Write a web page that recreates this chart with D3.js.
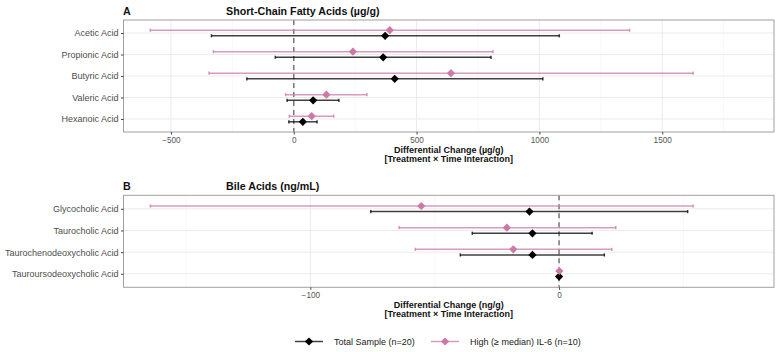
<!DOCTYPE html>
<html lang='en'>
<head>
<meta charset='utf-8'>
<title>Forest plot</title>
<script src='https://cdn.jsdelivr.net/npm/d3@7'></script>
<style>
  body { margin: 0; background: #fff; }
  text { font-family: 'Liberation Sans', Arial, sans-serif; }
</style>
</head>
<body>
<script>
// ---- data ----
var groups = ['Total Sample (n=20)', 'High (\u2265 median) IL-6 (n=10)'];
var groupColors = ['#000000', '#CC79A7'];

var scfaNames = ['Acetic Acid', 'Propionic Acid', 'Butyric Acid', 'Valeric Acid', 'Hexanoic Acid'];
var scfaTotalEst = [372, 364, 411, 79, 37];
var scfaTotalLo  = [-335, -75, -191, -27, -20];
var scfaTotalHi  = [1081, 803, 1014, 184, 95];
var scfaHighEst  = [391, 241, 640, 133, 73];
var scfaHighLo   = [-584, -327, -345, -33, -18];
var scfaHighHi   = [1367, 811, 1626, 298, 163];
var scfaTicks = [-500, 0, 500, 1000, 1500];

var bileNames = ['Glycocholic Acid', 'Taurocholic Acid', 'Taurochenodeoxycholic Acid', 'Tauroursodeoxycholic Acid'];
var bileTotalEst = [-11.9, -10.7, -10.7, 0];
var bileTotalLo  = [-75.7, -34.9, -39.7, -0.3];
var bileTotalHi  = [51.7, 13.3, 18.2, 0.3];
var bileHighEst  = [-55.4, -21.0, -18.4, 0.1];
var bileHighLo   = [-164.3, -64.3, -57.8, -0.4];
var bileHighHi   = [53.9, 22.8, 21.2, 0.6];
var bileTicks = [-100, 0];

var W = 779, H = 352;
var svg = d3.select('body').append('svg').attr('width', W).attr('height', H);

function rows(names, te, tl, th, he, hl, hh) {
  var out = [];
  names.forEach(function(n, i) {
    out.push({name: n, g: 0, est: te[i], lo: tl[i], hi: th[i]});
    out.push({name: n, g: 1, est: he[i], lo: hl[i], hi: hh[i]});
  });
  return out;
}

function panel(opt) {
  var left = 123.5, right = 774;
  var x = d3.scaleLinear().domain(opt.domain).range([left, right]);
  var y = d3.scalePoint().domain(opt.names).range([opt.top + opt.inset, opt.bottom - opt.inset]);
  var g = svg.append('g');

  // grid (minor + major)
  var step = opt.ticks[1] - opt.ticks[0];
  var minor = [];
  for (var i = -2; i < opt.ticks.length + 2; i++) minor.push(opt.ticks[0] - step / 2 + i * step);
  g.selectAll('.minor').data(minor.filter(function(v) { return x(v) > left && x(v) < right; }))
    .enter().append('line')
    .attr('x1', x).attr('x2', x).attr('y1', opt.top).attr('y2', opt.bottom)
    .attr('stroke', '#f4f4f4').attr('stroke-width', 0.6);
  g.selectAll('.major').data(opt.ticks).enter().append('line')
    .attr('x1', x).attr('x2', x).attr('y1', opt.top).attr('y2', opt.bottom)
    .attr('stroke', '#ebebeb').attr('stroke-width', 1);
  g.selectAll('.hgrid').data(opt.names).enter().append('line')
    .attr('x1', left).attr('x2', right).attr('y1', y).attr('y2', y)
    .attr('stroke', '#ebebeb').attr('stroke-width', 1);

  // zero line
  g.append('line').attr('x1', x(0)).attr('x2', x(0)).attr('y1', opt.top).attr('y2', opt.bottom)
    .attr('stroke', '#777').attr('stroke-width', 1.5).attr('stroke-dasharray', '5,4');

  // error bars + points
  var dodge = 2.8;
  var bars = g.selectAll('.bar').data(opt.data).enter().append('g')
    .attr('transform', function(r) { return 'translate(0,' + (y(r.name) + (r.g === 1 ? -dodge : dodge)) + ')'; });
  bars.append('line').attr('x1', function(r) { return x(r.lo); }).attr('x2', function(r) { return x(r.hi); })
    .attr('stroke', function(r) { return groupColors[r.g]; })
    .attr('stroke-opacity', 0.75).attr('stroke-width', 1.5);
  ['lo', 'hi'].forEach(function(k) {
    bars.append('line').attr('x1', function(r) { return x(r[k]); }).attr('x2', function(r) { return x(r[k]); })
      .attr('y1', -1.6).attr('y2', 1.6)
      .attr('stroke', function(r) { return groupColors[r.g]; })
      .attr('stroke-opacity', 0.75).attr('stroke-width', 1.5);
  });
  bars.append('path').attr('d', d3.symbol(d3.symbolSquare, 34)())
    .attr('transform', function(r) { return 'translate(' + x(r.est) + ',0) rotate(45)'; })
    .attr('fill', function(r) { return groupColors[r.g]; });

  // border
  g.append('rect').attr('x', left).attr('y', opt.top).attr('width', right - left).attr('height', opt.bottom - opt.top)
    .attr('fill', 'none').attr('stroke', '#a0a0a0').attr('stroke-width', 1);

  // axes
  var xa = g.append('g').attr('transform', 'translate(0,' + opt.bottom + ')')
    .call(d3.axisBottom(x).tickValues(opt.ticks).tickSize(2.5).tickSizeOuter(0)
      .tickFormat(function(v) { return v < 0 ? '\u2212' + (-v) : v; }));
  xa.select('.domain').remove();
  xa.selectAll('line').attr('stroke', '#444');
  xa.selectAll('text').attr('fill', '#555').attr('font-size', 8.2).attr('y', 5).attr('dy', '0.71em')
    .style('font-family', "'Liberation Sans', Arial, sans-serif");
  var ya = g.append('g').attr('transform', 'translate(' + left + ',0)')
    .call(d3.axisLeft(y).tickSize(2.5).tickPadding(2.5));
  ya.select('.domain').remove();
  ya.selectAll('line').attr('stroke', '#444');
  ya.selectAll('text').attr('fill', '#4d4d4d').attr('font-size', 9)
    .style('font-family', "'Liberation Sans', Arial, sans-serif");

  // titles
  g.append('text').attr('x', 123).attr('y', opt.top - 5.5).attr('font-size', 10.7).attr('font-weight', 'bold')
    .attr('fill', '#111').text(opt.tag);
  g.append('text').attr('x', 226).attr('y', opt.top - 5.5).attr('font-size', 10.7).attr('font-weight', 'bold')
    .attr('fill', '#111').text(opt.title);
  var cx = (left + right) / 2;
  g.append('text').attr('x', cx).attr('y', opt.bottom + 20.5).attr('text-anchor', 'middle')
    .attr('font-size', 9).attr('font-weight', 'bold').attr('fill', '#111').text(opt.xlab1);
  g.append('text').attr('x', cx).attr('y', opt.bottom + 30).attr('text-anchor', 'middle')
    .attr('font-size', 9).attr('font-weight', 'bold').attr('fill', '#111').text('[Treatment \u00d7 Time Interaction]');
}

panel({
  names: scfaNames, ticks: scfaTicks, domain: [-693, 1955], top: 20, bottom: 132, inset: 13,
  data: rows(scfaNames, scfaTotalEst, scfaTotalLo, scfaTotalHi, scfaHighEst, scfaHighLo, scfaHighHi),
  tag: 'A', title: 'Short-Chain Fatty Acids (\u00b5g/g)', xlab1: 'Differential Change (\u00b5g/g)'
});
panel({
  names: bileNames, ticks: bileTicks, domain: [-175.1, 86.4], top: 195.3, bottom: 287.3, inset: 13.5,
  data: rows(bileNames, bileTotalEst, bileTotalLo, bileTotalHi, bileHighEst, bileHighLo, bileHighHi),
  tag: 'B', title: 'Bile Acids (ng/mL)', xlab1: 'Differential Change (ng/g)'
});

// legend
var leg = svg.append('g').attr('transform', 'translate(0,341.5)');
var lx = [295, 431];
groups.forEach(function(name, i) {
  var k = leg.append('g').attr('transform', 'translate(' + lx[i] + ',0)');
  k.append('line').attr('x1', 0).attr('x2', 28).attr('stroke', groupColors[i])
    .attr('stroke-opacity', 0.75).attr('stroke-width', 1.5);
  k.append('path').attr('d', d3.symbol(d3.symbolSquare, 34)()).attr('transform', 'translate(14,0) rotate(45)')
    .attr('fill', groupColors[i]);
  k.append('text').attr('x', 39).attr('y', 0).attr('dy', '0.35em').attr('font-size', 9)
    .attr('fill', '#222').text(name);
});
</script>
</body>
</html>
